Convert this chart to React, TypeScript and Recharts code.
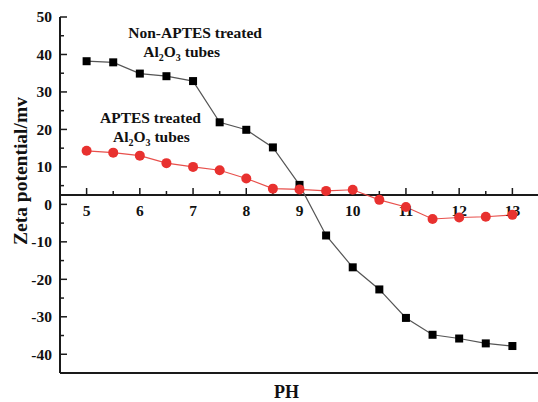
import React from 'react';
import { LineChart, Line, XAxis, YAxis, ReferenceLine, ReferenceDot, Label } from 'recharts';

const phValues = [5, 5.5, 6, 6.5, 7, 7.5, 8, 8.5, 9, 9.5, 10, 10.5, 11, 11.5, 12, 12.5, 13];
const nonAptesZeta = [38.2, 37.9, 34.9, 34.2, 32.9, 21.9, 19.9, 15.2, 5.2, -8.3, -16.8, -22.7, -30.3, -34.8, -35.8, -37.1, -37.8];
const aptesZeta = [14.3, 13.8, 13.0, 11.0, 10.0, 9.1, 6.9, 4.2, 4.0, 3.6, 3.9, 1.2, -0.7, -3.9, -3.5, -3.3, -2.8];
const xTicks = [5, 5.5, 6, 6.5, 7, 7.5, 8, 8.5, 9, 9.5, 10, 10.5, 11, 11.5, 12, 12.5, 13];
const yTicks = [-45, -40, -35, -30, -25, -20, -15, -10, -5, 0, 5, 10, 15, 20, 25, 30, 35, 40, 45, 50];
const xAxisLevel = 2.5;

const data = phValues.map((ph, i) => ({ ph, nonAptes: nonAptesZeta[i], aptes: aptesZeta[i] }));

const FONT = '"Liberation Serif", "Times New Roman", serif';
const AXIS = '#1a1a1a';

const YTick = (props: any) => {
  const { x, y, payload } = props;
  const v = payload.value;
  const major = v % 10 === 0;
  return (
    <g>
      <line x1={x} x2={x + (major ? 7 : 4)} y1={y} y2={y} stroke={AXIS} strokeWidth={1.5} />
      {major && (
        <text x={x - 8} y={y} dy="0.35em" textAnchor="end" fontFamily={FONT} fontWeight="bold" fontSize={15.5} fill="#111">
          {v}
        </text>
      )}
    </g>
  );
};

const xTickShape = (v: number) => (p: any) => {
  const major = Number.isInteger(v);
  return (
    <g>
      <line x1={p.cx} x2={p.cx} y1={p.cy} y2={p.cy - (major ? 7 : 4)} stroke={AXIS} strokeWidth={1.5} />
      {major && (
        <text x={p.cx} y={p.cy + 21} textAnchor="middle" fontFamily={FONT} fontWeight="bold" fontSize={15.5} fill="#111">
          {v}
        </text>
      )}
    </g>
  );
};

const annotation = (kind: 'title' | 'formula', title: string) => (p: any) => (
  <text x={p.cx} y={p.cy} fontFamily={FONT} fontWeight="bold" fontSize={15.5} fill="#111">
    {kind === 'title' ? (
      title
    ) : (
      <>
        <tspan>Al</tspan>
        <tspan fontSize={10} dy={4}>2</tspan>
        <tspan dy={-4}>O</tspan>
        <tspan fontSize={10} dy={4}>3</tspan>
        <tspan dy={-4}> tubes</tspan>
      </>
    )}
  </text>
);

const annotations = [
  { x: 5.783, y: 44.4, kind: 'title' as const, text: 'Non-APTES treated' },
  { x: 6.065, y: 39.3, kind: 'formula' as const, text: '' },
  { x: 5.252, y: 21.7, kind: 'title' as const, text: 'APTES treated' },
  { x: 5.496, y: 16.7, kind: 'formula' as const, text: '' },
];

const SquareDot = (p: any) => (
  <rect key={`sq-${p.index}`} x={p.cx - 4} y={p.cy - 4} width={8} height={8} fill="#000" />
);

export default function App() {
  return (
    <div style={{ position: 'absolute', left: 0, top: 0, width: 538, height: 402, overflow: 'hidden', background: '#fff' }}>
      <LineChart width={540} height={402} data={data} margin={{ top: 17, right: 1, bottom: 0, left: 0 }}>
        <XAxis
          dataKey="ph"
          type="number"
          domain={[4.5, 13.5]}
          tick={false}
          tickLine={false}
          height={29}
          axisLine={{ stroke: AXIS, strokeWidth: 2 }}
        >
          <Label value="PH" position="insideBottom" offset={4} dx={-13} fontFamily={FONT} fontWeight="bold" fontSize={18} fill="#111" />
        </XAxis>
        <XAxis
          xAxisId="top"
          orientation="top"
          type="number"
          domain={[4.5, 13.5]}
          tick={false}
          tickLine={false}
          height={0}
          axisLine={{ stroke: AXIS, strokeWidth: 2 }}
        />
        <YAxis
          type="number"
          domain={[-45, 50]}
          ticks={yTicks}
          interval={0}
          width={60}
          tickSize={0}
          tickMargin={0}
          tickLine={false}
          tick={<YTick />}
          axisLine={{ stroke: AXIS, strokeWidth: 2 }}
        >
          <Label value="Zeta potential/mv" position="center" angle={-90} dx={-10} dy={-24} fontFamily={FONT} fontWeight="bold" fontSize={19.5} fill="#111" />
        </YAxis>
        <ReferenceLine y={xAxisLevel} stroke={AXIS} strokeWidth={2} />
        {xTicks.map((t) => (
          <ReferenceDot key={`xt-${t}`} x={t} y={xAxisLevel} r={0} shape={xTickShape(t)} />
        ))}
        {annotations.map((a, i) => (
          <ReferenceDot key={`an-${i}`} x={a.x} y={a.y} r={0} shape={annotation(a.kind, a.text)} />
        ))}
        <Line dataKey="nonAptes" stroke="#555" strokeWidth={1.2} dot={SquareDot} isAnimationActive={false} />
        <Line
          dataKey="aptes"
          stroke="#e8504c"
          strokeWidth={1.2}
          dot={{ r: 5, fill: '#e8312f', stroke: '#e8312f', strokeWidth: 0 }}
          isAnimationActive={false}
        />
      </LineChart>
    </div>
  );
}
